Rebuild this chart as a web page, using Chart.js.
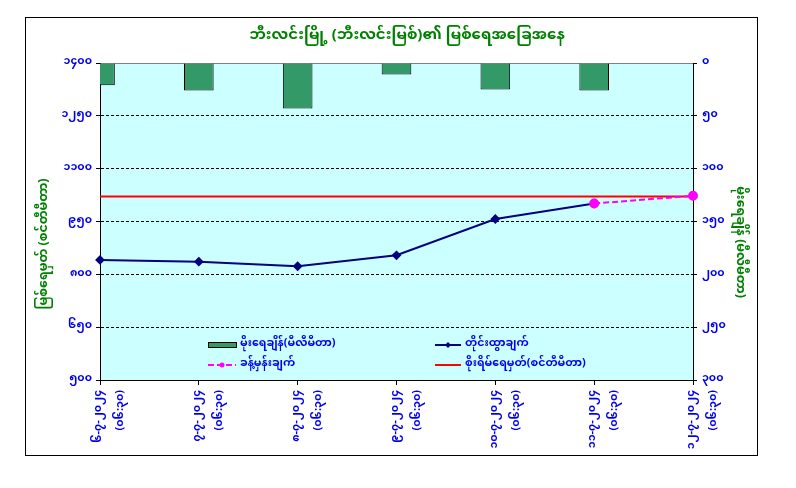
<!DOCTYPE html>
<html>
<head>
<meta charset="utf-8">
<script src="https://cdn.jsdelivr.net/npm/chart.js@4"></script>
<style>
  body { margin: 0; background: #fff; }
  #box { position: absolute; left: 25px; top: 17px; width: 731px; height: 437px; border: 1px solid #000; }
</style>
</head>
<body>
<div id="box"><canvas id="myChart" width="731" height="437"></canvas></div>
<script>
var MM_FONT = "'Noto Sans Myanmar', Padauk, 'Myanmar Text', 'Noto Sans', sans-serif";

// chart data
const dates = ['၆-၇-၂၀၂၄', '၇-၇-၂၀၂၄', '၈-၇-၂၀၂၄', '၉-၇-၂၀၂၄', '၁၀-၇-၂၀၂၄', '၁၁-၇-၂၀၂၄', '၁၂-၇-၂၀၂၄'];
const times = ['(၀၆:၃၀)', '(၀၆:၃၀)', '(၀၆:၃၀)', '(၀၆:၃၀)', '(၀၆:၃၀)', '(၀၆:၃၀)', '(၀၆:၃၀)'];
const rainfall = [21, 26, 43, 11, 25, 26, 0];
const waterLevel = [841, 836, 823, 854, 957, 1001, null];
const forecast = [null, null, null, null, null, 1001, 1023];
const dangerLevel = [1021, 1021, 1021, 1021, 1021, 1021, 1021];

const titleText = 'ဘီးလင်းမြို့ (ဘီးလင်းမြစ်)၏ မြစ်ရေအခြေအနေ';
const leftTitle = 'မြစ်ရေမှတ် (စင်တီမီတာ)';
const rightTitle = 'မိုးရေချိန် (မီလီမီတာ)';

const labels = [];
for (let i = 0; i < dates.length; i++) {
    labels.push([dates[i], times[i]]);
}

// western digits -> myanmar digits
var mmDigits = function(n) {
    return String(n).replace(/[0-9]/g, function(d) {
        return String.fromCharCode(0x1040 + parseInt(d));
    });
};

const BLUE = '#0000ee';
const GREEN = '#008000';

// light cyan plot background, titles and the legend inside the plot
const decor = {
    id: 'decor',
    beforeDraw: function(chart) {
        const ctx = chart.ctx;
        const a = chart.chartArea;
        ctx.save();
        ctx.fillStyle = '#ccffff';
        ctx.fillRect(a.left, a.top, a.right - a.left, a.bottom - a.top);
        ctx.restore();
    },
    afterDraw: function(chart) {
        const ctx = chart.ctx;
        const a = chart.chartArea;
        ctx.save();
        ctx.fillStyle = GREEN;
        ctx.font = 'bold 15px ' + MM_FONT;
        ctx.textAlign = 'center';
        ctx.textBaseline = 'middle';
        ctx.fillText(titleText, 381, 19);

        // axis titles
        ctx.font = 'bold 12.5px ' + MM_FONT;
        ctx.save();
        ctx.translate(20, 226);
        ctx.rotate(-Math.PI / 2);
        ctx.fillText(leftTitle, 0, 0);
        ctx.restore();
        ctx.save();
        ctx.translate(712, 224);
        ctx.rotate(Math.PI / 2);
        ctx.fillText(rightTitle, 0, 0);
        ctx.restore();

        // legend
        const ds = chart.data.datasets;
        const cols = [a.left + 108, a.left + 335];
        const rows = [a.bottom - 35, a.bottom - 15];
        const slots = [[0, 0], [1, 0], [0, 1], [1, 1]];
        ctx.font = 'bold 11px ' + MM_FONT;
        ctx.textAlign = 'left';
        for (let i = 0; i < ds.length; i++) {
            const x = cols[slots[i][0]];
            const y = rows[slots[i][1]];
            const d = ds[i];
            const w = (slots[i][0] === 0) ? 28 : 26;
            if (d.type === 'bar') {
                ctx.fillStyle = d.backgroundColor;
                ctx.fillRect(x, y - 2, w, 5);
                ctx.strokeStyle = '#000';
                ctx.lineWidth = 1;
                ctx.strokeRect(x + 0.5, y - 2.5, w, 5);
            } else {
                ctx.strokeStyle = d.borderColor;
                ctx.lineWidth = d.borderWidth;
                ctx.setLineDash(d.borderDash || []);
                ctx.beginPath();
                ctx.moveTo(x, y);
                ctx.lineTo(x + w, y);
                ctx.stroke();
                ctx.setLineDash([]);
                if (d.pointRadius > 0) {
                    ctx.fillStyle = d.pointBackgroundColor;
                    ctx.beginPath();
                    if (d.pointStyle === 'rectRot') {
                        ctx.moveTo(x + w / 2, y - 3);
                        ctx.lineTo(x + w / 2 + 3, y);
                        ctx.lineTo(x + w / 2, y + 3);
                        ctx.lineTo(x + w / 2 - 3, y);
                    } else {
                        ctx.arc(x + w / 2, y, 2.5, 0, Math.PI * 2);
                    }
                    ctx.fill();
                }
            }
            ctx.fillStyle = BLUE;
            ctx.fillText(d.label, x + w + 4, y);
        }
        ctx.restore();
    }
};

const data = {
    labels: labels,
    datasets: [{
        type: 'bar',
        label: 'မိုးရေချိန်(မီလီမီတာ)',
        data: rainfall,
        yAxisID: 'yRain',
        backgroundColor: '#339966',
        borderColor: '#000000',
        borderWidth: 1,
        barPercentage: 0.3,
        categoryPercentage: 1,
        clip: 0,
        order: 4
    }, {
        type: 'line',
        label: 'တိုင်းထွာချက်',
        data: waterLevel,
        yAxisID: 'y',
        borderColor: '#000080',
        backgroundColor: '#000080',
        pointBackgroundColor: '#000080',
        pointBorderColor: '#000080',
        pointStyle: 'rectRot',
        pointRadius: 3.5,
        borderWidth: 2,
        tension: 0,
        order: 2
    }, {
        type: 'line',
        label: 'ခန့်မှန်းချက်',
        data: forecast,
        yAxisID: 'y',
        borderColor: '#ff00ff',
        backgroundColor: '#ff00ff',
        pointBackgroundColor: '#ff00ff',
        pointBorderColor: '#ff00ff',
        pointStyle: 'circle',
        pointRadius: 4,
        borderWidth: 2,
        borderDash: [6, 3],
        tension: 0,
        order: 1
    }, {
        type: 'line',
        label: 'စိုးရိမ်ရေမှတ်(စင်တီမီတာ)',
        data: dangerLevel,
        yAxisID: 'y',
        borderColor: '#ff0000',
        backgroundColor: '#ff0000',
        pointRadius: 0,
        borderWidth: 2,
        tension: 0,
        order: 3
    }]
};

const config = {
    type: 'bar',
    data: data,
    options: {
        responsive: false,
        animation: false,
        layout: {
            padding: { left: 0, right: 0, top: 45, bottom: 0 }
        },
        plugins: {
            legend: { display: false },
            title: { display: false },
            tooltip: { enabled: false }
        },
        scales: {
            x: {
                offset: false,
                afterFit: function(s) { s.height = 75; },
                grid: {
                    offset: false,
                    drawOnChartArea: false,
                    drawTicks: true,
                    tickLength: 5,
                    color: '#000'
                },
                border: { display: true, color: '#000', width: 1 },
                ticks: {
                    color: BLUE,
                    font: { family: MM_FONT, size: 11, weight: 'bold', lineHeight: 2.0 },
                    minRotation: 90,
                    maxRotation: 90,
                    autoSkip: false,
                    padding: 5
                }
            },
            y: {
                position: 'left',
                min: 500,
                max: 1400,
                afterFit: function(s) { s.width = 74; },
                afterBuildTicks: function(s) {
                    s.ticks = [];
                    for (let v = 500; v <= 1400; v += 150) s.ticks.push({ value: v });
                },
                grid: {
                    color: function(c) { return c.tick && c.tick.value === 1400 ? '#808080' : '#000'; },
                    tickColor: '#000',
                    tickLength: 4,
                    lineWidth: 1
                },
                border: {
                    display: true,
                    color: '#000',
                    width: 1,
                    dash: function(c) { return c.tick && c.tick.value === 1400 ? [] : [3, 2]; }
                },
                ticks: {
                    color: BLUE,
                    font: { family: MM_FONT, size: 11, weight: 'bold' },
                    padding: 4,
                    callback: function(v) { return mmDigits(v); }
                }
            },
            yRain: {
                position: 'right',
                reverse: true,
                min: 0,
                max: 300,
                afterFit: function(s) { s.width = 64; },
                afterBuildTicks: function(s) {
                    s.ticks = [];
                    for (let v = 0; v <= 300; v += 50) s.ticks.push({ value: v });
                },
                grid: {
                    drawOnChartArea: false,
                    color: '#000',
                    tickLength: 4
                },
                border: { display: true, color: '#000', width: 1 },
                ticks: {
                    color: BLUE,
                    font: { family: MM_FONT, size: 11, weight: 'bold' },
                    padding: 5,
                    callback: function(v) { return mmDigits(v); }
                }
            }
        }
    },
    plugins: [decor]
};

var myChart = new Chart(document.getElementById('myChart'), config);
</script>
</body>
</html>
